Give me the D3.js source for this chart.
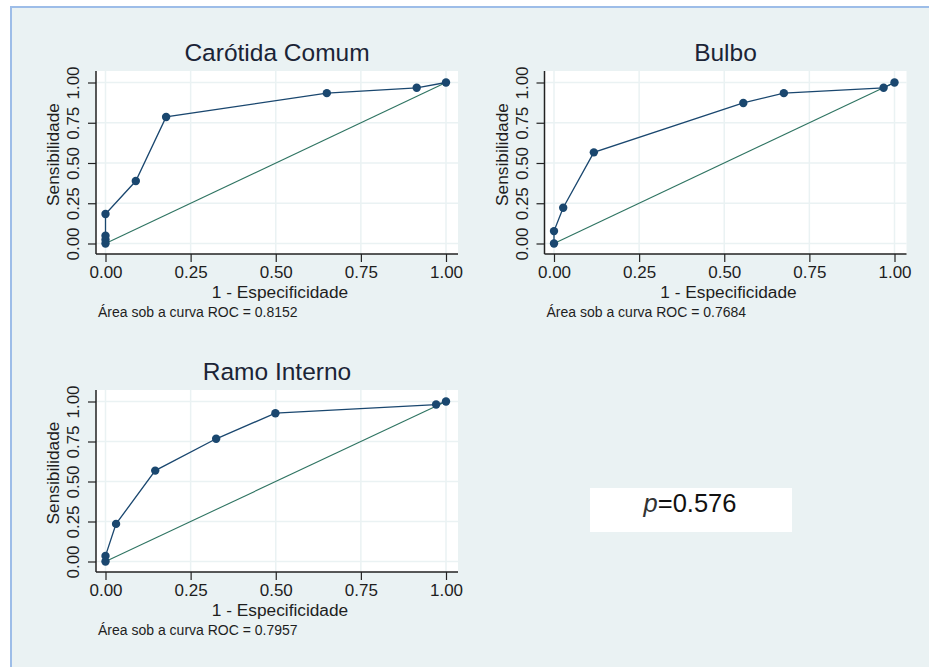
<!DOCTYPE html>
<html>
<head>
<meta charset="utf-8">
<script src="https://cdn.jsdelivr.net/npm/d3@7"></script>
<style>
  html, body { margin: 0; padding: 0; background: #ffffff; }
  svg { display: block; font-family: "Liberation Sans", Arial, sans-serif; }
</style>
</head>
<body>
<svg id="chart" width="929" height="667"></svg>
<script>
/* ========================= DATA ========================= */

const panelTitles = ["Carótida Comum", "Bulbo", "Ramo Interno"];

const fprCarotida = [0, 0, 0, 0, 0.089, 0.178, 0.650, 0.914, 1];
const tprCarotida = [0, 0.024, 0.048, 0.183, 0.388, 0.786, 0.934, 0.967, 1];

const fprBulbo = [0, 0, 0.027, 0.117, 0.556, 0.675, 0.968, 1];
const tprBulbo = [0, 0.077, 0.222, 0.566, 0.873, 0.934, 0.967, 1];

const fprRamo = [0, 0, 0.031, 0.146, 0.325, 0.499, 0.971, 1];
const tprRamo = [0, 0.035, 0.235, 0.568, 0.767, 0.927, 0.981, 1];

const aucValues = ["0.8152", "0.7684", "0.7957"];
const tickValues = [0, 0.25, 0.5, 0.75, 1];

const xTitle = "1 - Especificidade";
const yTitle = "Sensibilidade";
const aucLabel = "Área sob a curva ROC = ";
const pValue = "0.576";

/* ======================================================== */

const svg = d3.select("#chart");
const bg = "#eaf2f3";
const navy = "#1a476f";
const green = "#2f7462";

// graph region
svg.append("rect").attr("x", 11).attr("y", 7).attr("width", 918).attr("height", 660).attr("fill", bg);
svg.append("path")
   .attr("d", "M11,667 V7 H929")
   .attr("fill", "none")
   .attr("stroke", "#9dbde8")
   .attr("stroke-width", 2);

const panels = [
  { title: panelTitles[0], fpr: fprCarotida, tpr: tprCarotida, auc: aucValues[0], left: 96,    top: 71,  w: 362, h: 183 },
  { title: panelTitles[1], fpr: fprBulbo,    tpr: tprBulbo,    auc: aucValues[1], left: 544.5, top: 71,  w: 362, h: 183 },
  { title: panelTitles[2], fpr: fprRamo,     tpr: tprRamo,     auc: aucValues[2], left: 96,    top: 390, w: 362, h: 182 }
];

panels.forEach(drawPanel);

function drawPanel(p) {
  let g = svg.append("g").attr("transform", `translate(${p.left},${p.top})`);

  let x = d3.scaleLinear().domain([0, 1]).range([9.5, 350]);
  let y = d3.scaleLinear().domain([0, 1]).range([p.h - 10.5, 11.5]);

  g.append("rect").attr("width", p.w).attr("height", p.h).attr("fill", "#ffffff");

  // grid
  g.selectAll(".gx").data(tickValues).enter().append("line")
   .attr("x1", d => x(d)).attr("x2", d => x(d))
   .attr("y1", 0).attr("y2", p.h)
   .attr("stroke", bg).attr("stroke-width", 1.5);
  g.selectAll(".gy").data(tickValues).enter().append("line")
   .attr("y1", d => y(d)).attr("y2", d => y(d))
   .attr("x1", 0).attr("x2", p.w)
   .attr("stroke", bg).attr("stroke-width", 1.5);

  // axes
  let xAxis = g.append("g")
               .attr("transform", `translate(0,${p.h})`)
               .call(d3.axisBottom(x).tickValues(tickValues).tickSize(8).tickPadding(4)
                       .tickFormat(d3.format(".2f")));
  xAxis.select(".domain").attr("d", `M0,0H${p.w}`).attr("stroke", "#222").attr("stroke-width", 1.5);
  xAxis.selectAll(".tick line").attr("stroke", "#222").attr("stroke-width", 1.2);
  xAxis.selectAll(".tick text").attr("font-size", 17).attr("fill", "#1e1e1e")
       .attr("font-family", "Liberation Sans, Arial, sans-serif");

  let yAxis = g.append("g")
               .call(d3.axisLeft(y).tickValues(tickValues).tickSize(8).tickPadding(4)
                       .tickFormat(d3.format(".2f")));
  yAxis.select(".domain").attr("d", `M0,0V${p.h}`).attr("stroke", "#222").attr("stroke-width", 1.5);
  yAxis.selectAll(".tick line").attr("stroke", "#222").attr("stroke-width", 1.2);
  yAxis.selectAll(".tick text")
       .attr("font-size", 17).attr("fill", "#1e1e1e")
       .attr("font-family", "Liberation Sans, Arial, sans-serif")
       .attr("x", null).attr("dy", null)
       .attr("text-anchor", "middle")
       .attr("transform", "translate(-17,0) rotate(-90)");

  // reference diagonal
  g.append("line")
   .attr("x1", x(0)).attr("y1", y(0)).attr("x2", x(1)).attr("y2", y(1))
   .attr("stroke", green).attr("stroke-width", 1.1);

  // roc curve
  let pts = p.fpr.map((f, i) => [f, p.tpr[i]]);
  g.append("path")
   .datum(pts)
   .attr("d", d3.line().x(d => x(d[0])).y(d => y(d[1])))
   .attr("fill", "none").attr("stroke", navy).attr("stroke-width", 1.3);
  g.selectAll(".pt").data(pts).enter().append("circle")
   .attr("cx", d => x(d[0])).attr("cy", d => y(d[1]))
   .attr("r", 4.2).attr("fill", navy);

  // texts
  g.append("text")
   .attr("x", p.w / 2).attr("y", -10)
   .attr("text-anchor", "middle").attr("font-size", 24.5).attr("fill", "#1b2436")
   .text(p.title);
  g.append("text")
   .attr("x", p.w / 2 + 3).attr("y", p.h + 44)
   .attr("text-anchor", "middle").attr("font-size", 17.3).attr("fill", "#1e1e1e")
   .text(xTitle);
  g.append("text")
   .attr("transform", `translate(-37,${p.h / 2 - 8}) rotate(-90)`)
   .attr("text-anchor", "middle").attr("font-size", 17.3).attr("fill", "#1e1e1e")
   .text(yTitle);
  g.append("text")
   .attr("x", 2).attr("y", p.h + 63)
   .attr("font-size", 14).attr("fill", "#1e1e1e")
   .text(aucLabel + p.auc);
}

// p-value box
svg.append("rect").attr("x", 590).attr("y", 488).attr("width", 202).attr("height", 44).attr("fill", "#ffffff");
let pt = svg.append("text")
            .attr("x", 690).attr("y", 512)
            .attr("text-anchor", "middle").attr("font-size", 25.5).attr("fill", "#111");
pt.append("tspan").attr("font-style", "italic").attr("fill", "#333").text("p");
pt.append("tspan").text("=" + pValue);
</script>
</body>
</html>
